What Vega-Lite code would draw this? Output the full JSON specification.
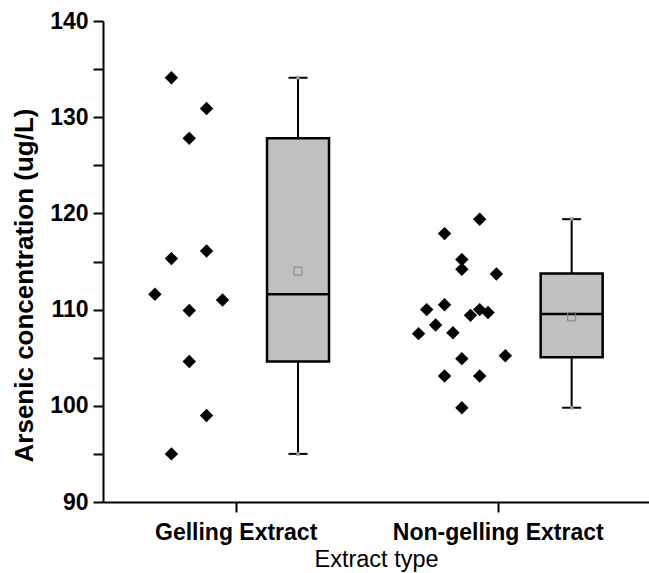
{
  "$schema": "https://vega.github.io/schema/vega-lite/v6.json",
  "width": 546,
  "height": 481,
  "autosize": {"type": "none"},
  "padding": {"left": 103, "top": 21, "right": 0, "bottom": 71},
  "background": "white",
  "config": {
    "view": {"stroke": null},
    "font": "Liberation Sans"
  },
  "datasets": {
    "points": [
      {"extract": "Gelling Extract", "pos": 0.755, "arsenic": 134.1},
      {"extract": "Gelling Extract", "pos": 0.889, "arsenic": 130.9},
      {"extract": "Gelling Extract", "pos": 0.823, "arsenic": 127.8},
      {"extract": "Gelling Extract", "pos": 0.889, "arsenic": 116.1},
      {"extract": "Gelling Extract", "pos": 0.755, "arsenic": 115.3},
      {"extract": "Gelling Extract", "pos": 0.692, "arsenic": 111.6},
      {"extract": "Gelling Extract", "pos": 0.950, "arsenic": 111.0},
      {"extract": "Gelling Extract", "pos": 0.823, "arsenic": 109.9},
      {"extract": "Gelling Extract", "pos": 0.823, "arsenic": 104.6},
      {"extract": "Gelling Extract", "pos": 0.889, "arsenic": 99.0},
      {"extract": "Gelling Extract", "pos": 0.755, "arsenic": 95.0},
      {"extract": "Non-gelling Extract", "pos": 1.931, "arsenic": 119.4},
      {"extract": "Non-gelling Extract", "pos": 1.797, "arsenic": 117.9},
      {"extract": "Non-gelling Extract", "pos": 1.863, "arsenic": 115.2},
      {"extract": "Non-gelling Extract", "pos": 1.863, "arsenic": 114.2},
      {"extract": "Non-gelling Extract", "pos": 1.995, "arsenic": 113.7},
      {"extract": "Non-gelling Extract", "pos": 1.797, "arsenic": 110.5},
      {"extract": "Non-gelling Extract", "pos": 1.729, "arsenic": 110.0},
      {"extract": "Non-gelling Extract", "pos": 1.931, "arsenic": 110.0},
      {"extract": "Non-gelling Extract", "pos": 1.963, "arsenic": 109.7},
      {"extract": "Non-gelling Extract", "pos": 1.896, "arsenic": 109.4},
      {"extract": "Non-gelling Extract", "pos": 1.763, "arsenic": 108.4},
      {"extract": "Non-gelling Extract", "pos": 1.829, "arsenic": 107.6},
      {"extract": "Non-gelling Extract", "pos": 1.698, "arsenic": 107.5},
      {"extract": "Non-gelling Extract", "pos": 2.029, "arsenic": 105.2},
      {"extract": "Non-gelling Extract", "pos": 1.863, "arsenic": 104.9},
      {"extract": "Non-gelling Extract", "pos": 1.797, "arsenic": 103.1},
      {"extract": "Non-gelling Extract", "pos": 1.931, "arsenic": 103.1},
      {"extract": "Non-gelling Extract", "pos": 1.863, "arsenic": 99.8}
    ],
    "boxes": [
      {"extract": "Gelling Extract", "pos": 1.238, "min": 95.0, "q1": 104.6, "median": 111.6, "q3": 127.8, "max": 134.1, "mean": 114.0},
      {"extract": "Non-gelling Extract", "pos": 2.282, "min": 99.8, "q1": 105.05, "median": 109.55, "q3": 113.75, "max": 119.4, "mean": 109.25}
    ]
  },
  "encoding": {
    "x": {
      "type": "quantitative",
      "scale": {"domain": [0.513, 2.558], "nice": false, "zero": false},
      "axis": {
        "values": [1, 2],
        "labelExpr": "datum.value == 1 ? 'Gelling Extract' : 'Non-gelling Extract'",
        "grid": false,
        "domainColor": "black",
        "domainWidth": 2,
        "tickColor": "black",
        "tickWidth": 2,
        "tickSize": 10,
        "labelColor": "black",
        "labelFont": "Liberation Sans",
        "labelFontWeight": "bold",
        "labelFontSize": 23,
        "labelPadding": 9,
        "labelLimit": 0,
        "labelFlush": false,
        "labelOverlap": false,
        "title": "Extract type",
        "titleColor": "black",
        "titleFont": "Liberation Sans",
        "titleFontWeight": "normal",
        "titleFontSize": 23.5,
        "titlePadding": 3
      }
    },
    "y": {
      "type": "quantitative",
      "scale": {"domain": [90, 140], "nice": false, "zero": false},
      "axis": {
        "values": [90, 95, 100, 105, 110, 115, 120, 125, 130, 135, 140],
        "labelExpr": "datum.value % 10 === 0 ? datum.label : ''",
        "grid": false,
        "domainColor": "black",
        "domainWidth": 2,
        "tickColor": "black",
        "tickWidth": 2,
        "tickSize": 10,
        "labelColor": "black",
        "labelFont": "Liberation Sans",
        "labelFontWeight": "bold",
        "labelFontSize": 23,
        "labelPadding": 5,
        "title": "Arsenic concentration (ug/L)",
        "titleColor": "black",
        "titleFont": "Liberation Sans",
        "titleFontWeight": "bold",
        "titleFontSize": 26,
        "titleAngle": -90,
        "titleAlign": "center",
        "titleBaseline": "middle",
        "titleX": -79,
        "titleY": 264,
        "encode": {
          "ticks": {
            "update": {
              "x2": {"signal": "datum.value % 10 === 0 ? -10 : -6"}
            }
          }
        }
      }
    }
  },
  "layer": [
    {
      "data": {"name": "boxes"},
      "mark": {"type": "rule", "color": "black", "strokeWidth": 2},
      "encoding": {
        "x": {"field": "pos"},
        "y": {"field": "min"},
        "y2": {"field": "max"}
      }
    },
    {
      "data": {"name": "boxes"},
      "mark": {"type": "tick", "orient": "horizontal", "color": "black", "size": 19, "thickness": 2, "opacity": 1},
      "encoding": {
        "x": {"field": "pos"},
        "y": {"field": "max"}
      }
    },
    {
      "data": {"name": "boxes"},
      "mark": {"type": "tick", "orient": "horizontal", "color": "black", "size": 19, "thickness": 2, "opacity": 1},
      "encoding": {
        "x": {"field": "pos"},
        "y": {"field": "min"}
      }
    },
    {
      "data": {"name": "boxes"},
      "mark": {"type": "point", "shape": "cross", "angle": 45, "filled": true, "color": "#9a9a9a", "size": 22, "opacity": 1},
      "encoding": {
        "x": {"field": "pos"},
        "y": {"field": "max"}
      }
    },
    {
      "data": {"name": "boxes"},
      "mark": {"type": "point", "shape": "cross", "angle": 45, "filled": true, "color": "#9a9a9a", "size": 22, "opacity": 1},
      "encoding": {
        "x": {"field": "pos"},
        "y": {"field": "min"}
      }
    },
    {
      "data": {"name": "boxes"},
      "mark": {"type": "bar", "orient": "vertical", "width": 62, "fill": "#C0C0C0", "stroke": "black", "strokeWidth": 2.5},
      "encoding": {
        "x": {"field": "pos"},
        "y": {"field": "q1"},
        "y2": {"field": "q3"}
      }
    },
    {
      "data": {"name": "boxes"},
      "mark": {"type": "tick", "orient": "horizontal", "color": "black", "size": 62, "thickness": 2.5, "opacity": 1},
      "encoding": {
        "x": {"field": "pos"},
        "y": {"field": "median"}
      }
    },
    {
      "data": {"name": "boxes"},
      "mark": {"type": "point", "shape": "square", "filled": false, "stroke": "#808080", "strokeWidth": 1, "size": 64, "opacity": 1},
      "encoding": {
        "x": {"field": "pos"},
        "y": {"field": "mean"}
      }
    },
    {
      "data": {"name": "points"},
      "mark": {"type": "point", "shape": "diamond", "filled": true, "color": "black", "size": 180, "opacity": 1},
      "encoding": {
        "x": {"field": "pos"},
        "y": {"field": "arsenic"}
      }
    }
  ]
}
